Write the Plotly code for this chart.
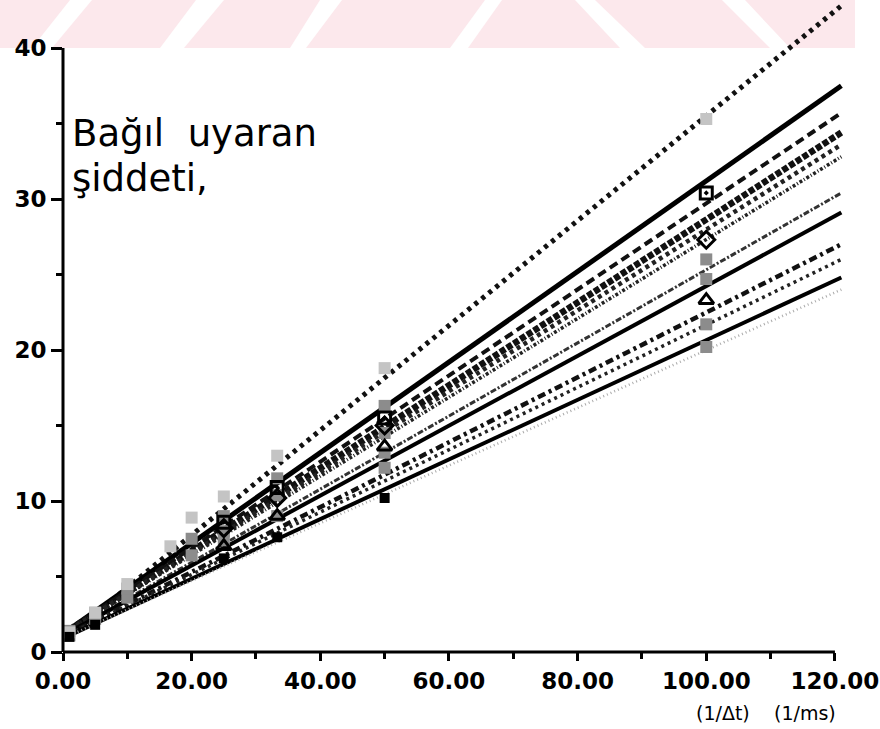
import plotly.graph_objects as go

# Fitted response lines: value at 1/dt = 0 and at 1/dt = 121
fit_x = [0, 121]
fit_start = [0.8, 1.2, 1.2, 1.2, 1.2, 1.2, 1.1, 1.1, 1.0, 1.0, 0.9, 0.9]
fit_end = [42.8, 37.5, 35.7, 34.4, 33.6, 32.8, 30.4, 29.1, 27.0, 26.0, 24.8, 24.0]

# Measured points
light_x = [1, 5, 10, 16.7, 20, 25, 33.3, 50, 100]
light_y = [1.3, 2.6, 4.5, 7.0, 8.9, 10.3, 13.0, 18.8, 35.3]

opensq_x = [25, 33.3, 50, 100]
opensq_y = [8.6, 10.9, 15.5, 30.4]

diamond_x = [25, 33.3, 50, 100]
diamond_y = [8.2, 10.2, 15.0, 27.3]

triangle_x = [25, 33.3, 50, 100]
triangle_y = [7.0, 9.0, 13.6, 23.3]

filled_x = [1, 5, 25, 33.3, 50]
filled_y = [1.0, 1.8, 6.2, 7.6, 10.2]

checker_x = [1, 1, 5, 5, 10, 10, 20, 20, 25, 25, 25, 33.3, 33.3, 33.3,
             50, 50, 50, 50, 100, 100, 100, 100]
checker_y = [1.1, 1.4, 2.2, 2.6, 3.6, 4.2, 6.4, 7.5, 7.4, 8.0, 9.0, 9.0, 10.4, 11.5,
             12.2, 13.2, 14.5, 16.3, 20.2, 21.7, 24.7, 26.0]

x_ticks = [0, 20, 40, 60, 80, 100, 120]
x_tick_labels = ["0.00", "20.00", "40.00", "60.00", "80.00", "100.00", "120.00"]
y_ticks = [0, 10, 20, 30, 40]
y_tick_labels = ["0", "10", "20", "30", "40"]

line_styles = [
    dict(color="#111", width=5, dash="4px,5px"),
    dict(color="#000", width=5, dash="solid"),
    dict(color="#111", width=4, dash="9px,5px"),
    dict(color="#111", width=6.5, dash="6px,2px"),
    dict(color="#222", width=4.5, dash="4px,4px"),
    dict(color="#222", width=3.5, dash="3px,2px,1px,2px"),
    dict(color="#333", width=3, dash="6px,2px,2px,2px"),
    dict(color="#000", width=4, dash="solid"),
    dict(color="#111", width=4.5, dash="8px,4px,3px,4px"),
    dict(color="#222", width=3.5, dash="3px,4px"),
    dict(color="#000", width=4, dash="solid"),
    dict(color="#aaa", width=2.5, dash="1px,3px"),
]

W, H = 880, 729
ML, MR, MT, MB = 63, 29, 0, 77
X_MAX, Y_MAX = 122.5, 43.18

fig = go.Figure()

for a, b, st in zip(fit_start, fit_end, line_styles):
    fig.add_trace(go.Scatter(x=fit_x, y=[a, b], mode="lines", line=st,
                             hoverinfo="skip", showlegend=False))

fig.add_trace(go.Scatter(x=checker_x, y=checker_y, mode="markers",
                         marker=dict(symbol="square", size=12, color="#8c8c8c"),
                         showlegend=False))
fig.add_trace(go.Scatter(x=light_x, y=light_y, mode="markers",
                         marker=dict(symbol="square", size=12, color="#c4c4c4"),
                         showlegend=False))
fig.add_trace(go.Scatter(x=filled_x, y=filled_y, mode="markers",
                         marker=dict(symbol="square", size=10, color="#000"),
                         showlegend=False))
fig.add_trace(go.Scatter(x=opensq_x, y=opensq_y, mode="markers",
                         marker=dict(symbol="square-open-dot", size=12, color="#000",
                                     line=dict(width=3)),
                         showlegend=False))
fig.add_trace(go.Scatter(x=diamond_x, y=diamond_y, mode="markers",
                         marker=dict(symbol="diamond-open", size=13, color="#000",
                                     line=dict(width=3)),
                         showlegend=False))
fig.add_trace(go.Scatter(x=triangle_x, y=triangle_y, mode="markers",
                         marker=dict(symbol="triangle-up-open", size=13, color="#000",
                                     line=dict(width=3)),
                         showlegend=False))


def px_x(p):
    return (p - ML) / (W - ML - MR)


def px_y(p):
    return 1 - (p - MT) / (H - MT - MB)


shapes = []
# faint pink banner along the top edge with white diagonal gaps
band_top, band_bot = 0, 48
shapes.append(dict(type="rect", xref="paper", yref="paper",
                   x0=px_x(0), x1=px_x(855), y0=px_y(band_bot), y1=px_y(band_top),
                   fillcolor="#fce8ec", line=dict(width=0), layer="below"))
gaps = [(32, 52, 70, 92), (160, 184, 196, 224), (290, 306, 320, 342),
        (450, 468, 485, 502), (620, 645, 575, 595), (770, 790, 722, 745)]
for b0, b1, t0, t1 in gaps:
    path = "M {} {} L {} {} L {} {} L {} {} Z".format(
        px_x(b0), px_y(band_bot), px_x(b1), px_y(band_bot),
        px_x(t1), px_y(band_top), px_x(t0), px_y(band_top))
    shapes.append(dict(type="path", xref="paper", yref="paper", path=path,
                       fillcolor="white", line=dict(width=0), layer="below"))

# axis lines stop at the last labelled tick
shapes.append(dict(type="line", xref="paper", yref="paper",
                   x0=0, x1=120 / X_MAX, y0=0, y1=0,
                   line=dict(color="black", width=3)))
shapes.append(dict(type="line", xref="paper", yref="paper",
                   x0=0, x1=0, y0=0, y1=40 / Y_MAX,
                   line=dict(color="black", width=3)))

tick_font = dict(family="DejaVu Sans, sans-serif", size=23,
                 color="black", weight="bold")
unit_font = dict(family="DejaVu Sans, sans-serif", size=19, color="black")
note_font = dict(family="DejaVu Sans, sans-serif", size=37, color="black")

fig.update_layout(
    width=W, height=H,
    margin=dict(l=ML, r=MR, t=MT, b=MB),
    paper_bgcolor="white", plot_bgcolor="rgba(0,0,0,0)",
    shapes=shapes,
    xaxis=dict(range=[0, X_MAX], tickvals=x_ticks, ticktext=x_tick_labels,
               ticks="outside", ticklen=8, tickwidth=3, tickcolor="black",
               minor=dict(dtick=10, ticks="outside", ticklen=6, tickwidth=2.5,
                          tickcolor="black"),
               showgrid=False, zeroline=False, showline=False,
               tickfont=tick_font),
    yaxis=dict(range=[0, Y_MAX], tickvals=y_ticks, ticktext=y_tick_labels,
               ticks="outside", ticklen=11, tickwidth=3, tickcolor="black",
               minor=dict(dtick=5, ticks="outside", ticklen=6, tickwidth=2.5,
                          tickcolor="black"),
               showgrid=False, zeroline=False, showline=False,
               tickfont=tick_font),
    annotations=[
        dict(text="Bağıl  uyaran", xref="paper", yref="paper",
             x=px_x(70), y=px_y(133), xanchor="left", yanchor="middle",
             showarrow=False, font=note_font),
        dict(text="şiddeti,", xref="paper", yref="paper",
             x=px_x(70), y=px_y(178), xanchor="left", yanchor="middle",
             showarrow=False, font=note_font),
        dict(text="(1/Δt)", xref="paper", yref="paper",
             x=px_x(723), y=px_y(713), xanchor="center", yanchor="middle",
             showarrow=False, font=unit_font),
        dict(text="(1/ms)", xref="paper", yref="paper",
             x=px_x(805), y=px_y(713), xanchor="center", yanchor="middle",
             showarrow=False, font=unit_font),
    ],
)

fig.write_html("out.html")
